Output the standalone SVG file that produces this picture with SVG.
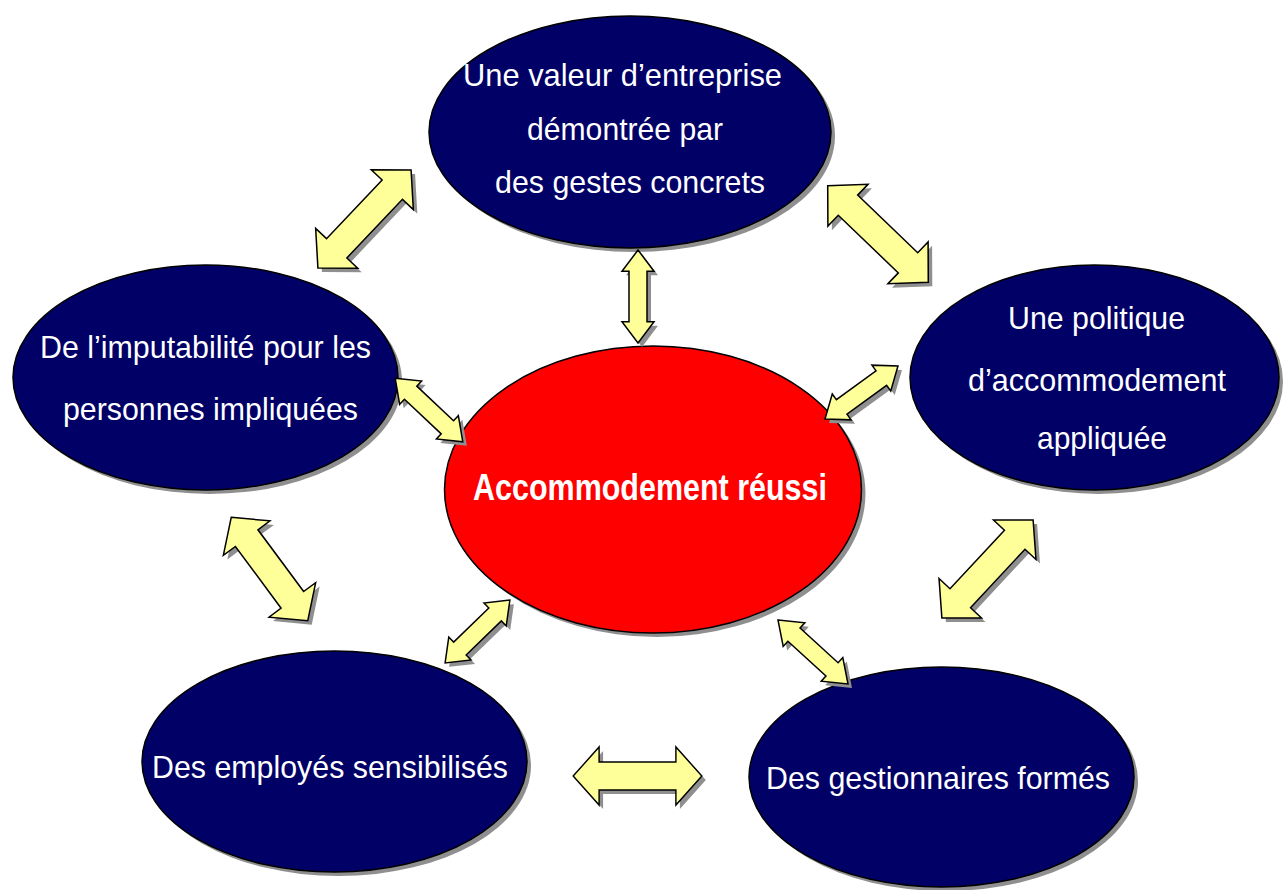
<svg xmlns="http://www.w3.org/2000/svg" xmlns:xlink="http://www.w3.org/1999/xlink" width="1283" height="890" viewBox="0 0 1283 890">
  <style>
    .node { fill: #000066; stroke: #000000; stroke-width: 1.5; }
    .core { fill: #FF0000; stroke: #000000; stroke-width: 1.5; }
    .shade { fill: #8f8f8f; stroke: none; }
    .arrow { fill: #FFFF99; stroke: #000000; stroke-width: 1.5; stroke-linejoin: miter; }
    .label { fill: #FFFFFF; font-family: "Liberation Sans", Arial, sans-serif; font-size: 32px; text-anchor: middle; }
    .title { font-weight: bold; font-size: 36px; }
  </style>
  <defs>
    <!-- double-headed block arrows, drawn along the x axis and centred on 0,0 -->
    <path id="bigArrow" d="M-67,0 L-40,-29 L-40,-14 L40,-14 L40,-29 L67,0 L40,29 L40,14 L-40,14 L-40,29 Z"/>
    <path id="smallArrow" d="M-46,0 L-25,-16 L-25,-9 L25,-9 L25,-16 L46,0 L25,16 L25,9 L-25,9 L-25,16 Z"/>
  </defs>
  <rect width="1283" height="890" fill="#FFFFFF"/>

  <!-- outer topics -->
  <g id="node-valeur">
    <ellipse class="shade" cx="634" cy="136" rx="201" ry="116"/>
    <ellipse class="node" cx="630" cy="132" rx="201" ry="116"/>
    <text class="label" x="622.5" y="86" textLength="319" lengthAdjust="spacingAndGlyphs">Une valeur d’entreprise</text>
    <text class="label" x="625" y="140" textLength="196" lengthAdjust="spacingAndGlyphs">démontrée par</text>
    <text class="label" x="630" y="193" textLength="270" lengthAdjust="spacingAndGlyphs">des gestes concrets</text>
  </g>
  <g id="node-imputabilite">
    <ellipse class="shade" cx="209.5" cy="381.5" rx="192.5" ry="112.5"/>
    <ellipse class="node" cx="205.5" cy="377.5" rx="192.5" ry="112.5"/>
    <text class="label" x="205.5" y="358" textLength="331" lengthAdjust="spacingAndGlyphs">De l’imputabilité pour les</text>
    <text class="label" x="210.5" y="420" textLength="295" lengthAdjust="spacingAndGlyphs">personnes impliquées</text>
  </g>
  <g id="node-politique">
    <ellipse class="shade" cx="1098.5" cy="381.5" rx="184.5" ry="112.5"/>
    <ellipse class="node" cx="1094.5" cy="377.5" rx="184.5" ry="112.5"/>
    <text class="label" x="1096.5" y="329" textLength="177" lengthAdjust="spacingAndGlyphs">Une politique</text>
    <text class="label" x="1097" y="391" textLength="258" lengthAdjust="spacingAndGlyphs">d’accommodement</text>
    <text class="label" x="1102" y="449" textLength="130" lengthAdjust="spacingAndGlyphs">appliquée</text>
  </g>
  <g id="node-employes">
    <ellipse class="shade" cx="338.5" cy="765.5" rx="192.5" ry="110.5"/>
    <ellipse class="node" cx="334.5" cy="761.5" rx="192.5" ry="110.5"/>
    <text class="label" x="330" y="778" textLength="356" lengthAdjust="spacingAndGlyphs">Des employés sensibilisés</text>
  </g>
  <g id="node-gestionnaires">
    <ellipse class="shade" cx="945.5" cy="781" rx="192.5" ry="110"/>
    <ellipse class="node" cx="941.5" cy="777" rx="192.5" ry="110"/>
    <text class="label" x="938" y="789" textLength="344" lengthAdjust="spacingAndGlyphs">Des gestionnaires formés</text>
  </g>

  <!-- central outcome -->
  <g id="node-accommodement">
    <ellipse class="shade" cx="657" cy="493.5" rx="208.5" ry="143.5"/>
    <ellipse class="core" cx="653" cy="489.5" rx="208.5" ry="143.5"/>
    <text class="label title" x="650" y="500" textLength="354" lengthAdjust="spacingAndGlyphs">Accommodement réussi</text>
  </g>

  <!-- two-way links -->
  <g id="connectors">
    <use xlink:href="#bigArrow" class="shade" transform="translate(368.5,223) rotate(-46.5) scale(1.01,1)"/>
    <use xlink:href="#bigArrow" class="arrow" transform="translate(364.5,219) rotate(-46.5) scale(1.01,1)"/>

    <use xlink:href="#smallArrow" class="shade" transform="translate(642,300.5) rotate(90) scale(1.01,1)"/>
    <use xlink:href="#smallArrow" class="arrow" transform="translate(638,296.5) rotate(90) scale(1.01,1)"/>

    <use xlink:href="#bigArrow" class="shade" transform="translate(882,238) rotate(43.8) scale(1.04,1)"/>
    <use xlink:href="#bigArrow" class="arrow" transform="translate(878,234) rotate(43.8) scale(1.04,1)"/>

    <use xlink:href="#smallArrow" class="shade" transform="translate(433,414) rotate(43.3) scale(1.01,1)"/>
    <use xlink:href="#smallArrow" class="arrow" transform="translate(429,410) rotate(43.3) scale(1.01,1)"/>

    <use xlink:href="#smallArrow" class="shade" transform="translate(865.5,396.5) rotate(-36) scale(0.98,1)"/>
    <use xlink:href="#smallArrow" class="arrow" transform="translate(861.5,392.5) rotate(-36) scale(0.98,1)"/>

    <use xlink:href="#bigArrow" class="shade" transform="translate(273.5,573) rotate(53.5) scale(0.96,1)"/>
    <use xlink:href="#bigArrow" class="arrow" transform="translate(269.5,569) rotate(53.5) scale(0.96,1)"/>

    <use xlink:href="#bigArrow" class="shade" transform="translate(991.5,573) rotate(-47.1)"/>
    <use xlink:href="#bigArrow" class="arrow" transform="translate(987.5,569) rotate(-47.1)"/>

    <use xlink:href="#smallArrow" class="shade" transform="translate(481.5,635.5) rotate(-44.1) scale(0.98,1)"/>
    <use xlink:href="#smallArrow" class="arrow" transform="translate(477.5,631.5) rotate(-44.1) scale(0.98,1)"/>

    <use xlink:href="#smallArrow" class="shade" transform="translate(817,656) rotate(42.4) scale(1.03,1)"/>
    <use xlink:href="#smallArrow" class="arrow" transform="translate(813,652) rotate(42.4) scale(1.03,1)"/>

    <use xlink:href="#bigArrow" class="shade" transform="translate(641.5,780) scale(0.96,1)"/>
    <use xlink:href="#bigArrow" class="arrow" transform="translate(637.5,776) scale(0.96,1)"/>
  </g>
</svg>
